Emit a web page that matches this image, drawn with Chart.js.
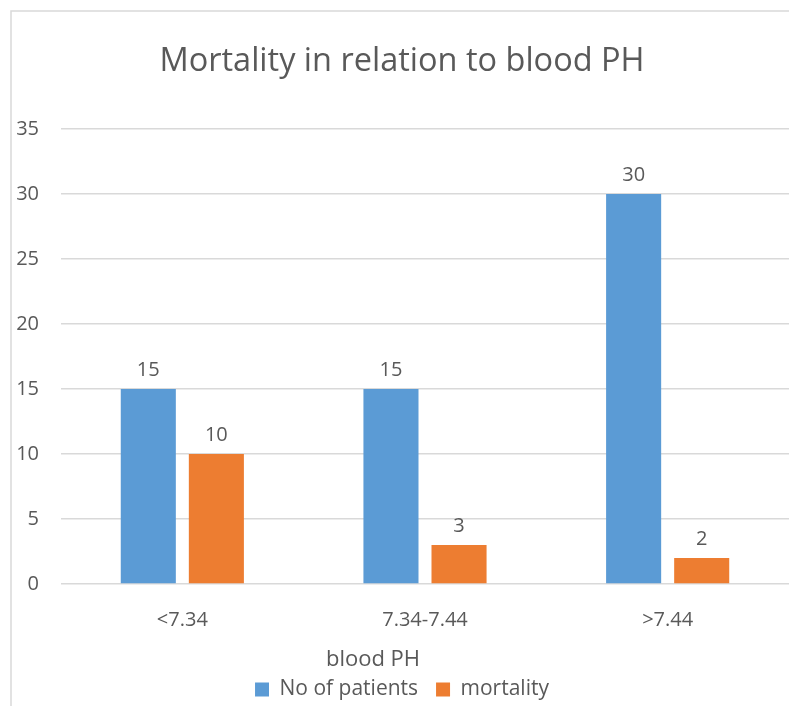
<!DOCTYPE html>
<html>
<head>
<meta charset="utf-8">
<script src="https://cdn.jsdelivr.net/npm/chart.js@4/dist/chart.umd.min.js"></script>
<style>
  html, body { margin: 0; padding: 0; background: #fff; }
  #wrap { width: 789px; height: 706px; }
</style>
</head>
<body>
<div id="wrap"><canvas id="chart" width="789" height="706"></canvas></div>
<script>
const categories = ['<7.34', '7.34-7.44', '>7.44'];
const patients = [15, 15, 30];
const mortality = [10, 3, 2];
const yTicks = [0, 5, 10, 15, 20, 25, 30, 35];

const textColor = '#595959';
const fontName = "'Open Sans', sans-serif";

// frame around the chart area (cut off at right and bottom in the original)
const framePlugin = {
    id: 'frame',
    beforeDraw(chart) {
        const ctx = chart.ctx;
        ctx.save();
        ctx.strokeStyle = '#d9d9d9';
        ctx.lineWidth = 1.5;
        ctx.strokeRect(11, 11, chart.width + 20, chart.height + 20);
        ctx.restore();
    }
};

// value labels above the bars
const valueLabels = {
    id: 'valueLabels',
    afterDatasetsDraw(chart) {
        const ctx = chart.ctx;
        ctx.save();
        ctx.font = `20px ${fontName}`;
        ctx.fillStyle = textColor;
        ctx.textAlign = 'center';
        ctx.textBaseline = 'alphabetic';
        chart.data.datasets.forEach((ds, i) => {
            chart.getDatasetMeta(i).data.forEach((bar, j) => {
                ctx.fillText(ds.data[j], bar.x, bar.y - 13);
            });
        });
        ctx.restore();
    }
};

// axis title, placed a little left of the plot centre like the original
const xTitle = {
    id: 'xTitle',
    afterDraw(chart) {
        const ctx = chart.ctx;
        ctx.save();
        ctx.font = `22px ${fontName}`;
        ctx.fillStyle = textColor;
        ctx.textAlign = 'center';
        ctx.textBaseline = 'alphabetic';
        ctx.fillText('blood PH', 373, 666);
        ctx.restore();
    }
};

new Chart(document.getElementById('chart').getContext('2d'), {
    type: 'bar',
    data: {
        labels: categories,
        datasets: [{
            label: 'No of patients',
            data: patients,
            backgroundColor: '#5b9bd5',
            categoryPercentage: 0.561,
            barPercentage: 0.809
        }, {
            label: 'mortality',
            data: mortality,
            backgroundColor: '#ed7d31',
            categoryPercentage: 0.561,
            barPercentage: 0.809
        }]
    },
    options: {
        responsive: false,
        animation: false,
        layout: { padding: { left: 15, right: 0, top: 0, bottom: -4 } },
        plugins: {
            title: {
                display: true,
                text: 'Mortality in relation to blood PH',
                color: textColor,
                font: { family: fontName, size: 32.5, weight: 'normal' },
                padding: { top: 42, bottom: 48 }
            },
            legend: {
                position: 'bottom',
                labels: {
                    color: textColor,
                    font: { family: fontName, size: 21 },
                    boxWidth: 14,
                    boxHeight: 14,
                    padding: 18
                }
            },
            tooltip: { enabled: false }
        },
        scales: {
            x: {
                grid: { display: false },
                border: { display: false },
                ticks: {
                    color: textColor,
                    font: { family: fontName, size: 20 },
                    padding: 16
                },
                afterFit(scale) { scale.height = 77; }
            },
            y: {
                min: 0,
                max: 35,
                afterBuildTicks(scale) { scale.ticks = yTicks.map(v => ({ value: v })); },
                grid: { color: '#d9d9d9', lineWidth: 1.5, drawTicks: false },
                border: { display: false },
                ticks: {
                    color: textColor,
                    font: { family: fontName, size: 20 },
                    padding: 22
                },
                afterFit(scale) { scale.width = 46; }
            }
        }
    },
    plugins: [framePlugin, valueLabels, xTitle]
});
</script>
</body>
</html>
